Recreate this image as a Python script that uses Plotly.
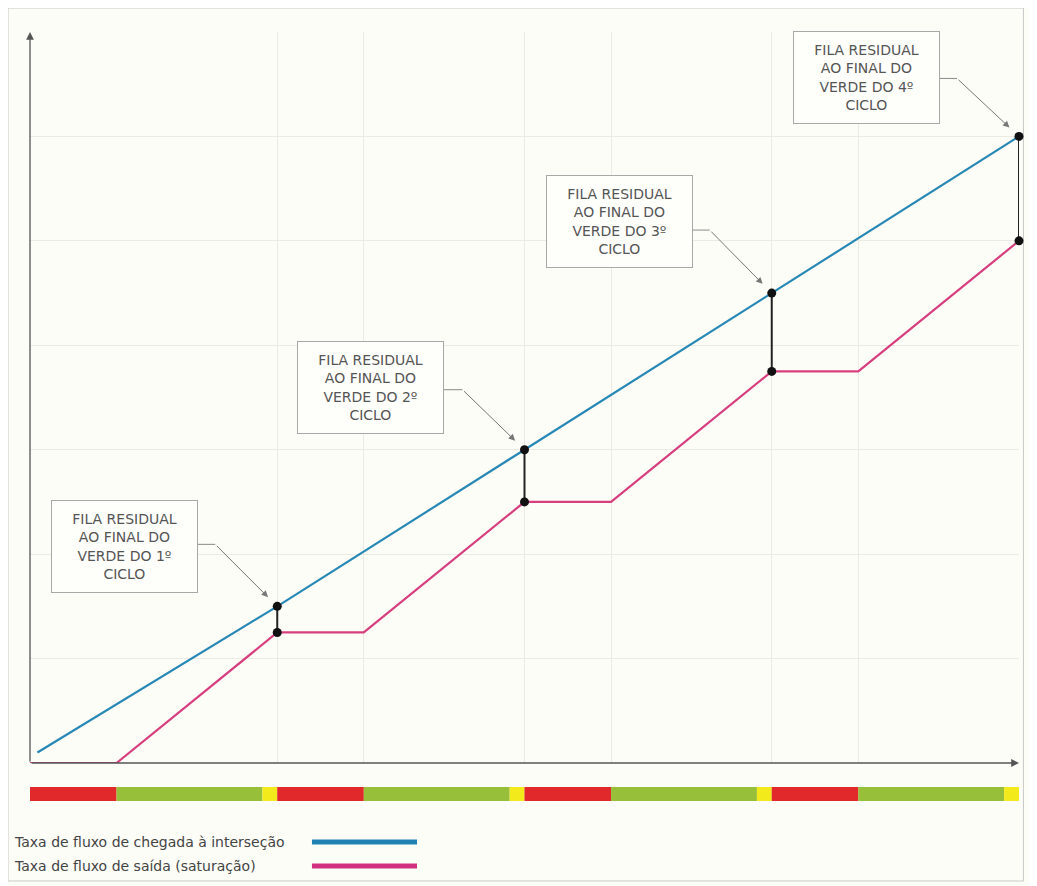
import plotly.graph_objects as go

# ---------------- data ----------------
# signal phases of one cycle (time units, cycle = 100)
phase_names = ["Vermelho", "Verde", "Amarelo"]
phase_durations = [35, 59, 6]
phase_colors = ["#e1282b", "#98bf3a", "#f3ea1c"]
n_cycles = 4

# cumulative arrivals (blue) and departures (pink)
arrival_x = [3, 100, 200, 300, 400]
arrival_y = [0.1, 1.5, 3.0, 4.5, 6.0]

departure_x = [0, 35, 100, 135, 200, 235, 300, 335, 400]
departure_y = [0, 0, 1.25, 1.25, 2.5, 2.5, 3.75, 3.75, 5.0]

# residual queue at end of each green
queue_x = [100, 200, 300, 400]
queue_top = [1.5, 3.0, 4.5, 6.0]
queue_bottom = [1.25, 2.5, 3.75, 5.0]

box_labels = [
    "FILA RESIDUAL<br>AO FINAL DO<br>VERDE DO 1º<br>CICLO",
    "FILA RESIDUAL<br>AO FINAL DO<br>VERDE DO 2º<br>CICLO",
    "FILA RESIDUAL<br>AO FINAL DO<br>VERDE DO 3º<br>CICLO",
    "FILA RESIDUAL<br>AO FINAL DO<br>VERDE DO 4º<br>CICLO",
]
legend_labels = ["Taxa de fluxo de chegada à interseção",
                 "Taxa de fluxo de saída (saturação)"]

# ---------------- style ----------------
BLUE = "#2888b5"
PINK = "#d63e7e"
BG = "#fdfdf7"
GRID = "#ebebe3"
FONT = "DejaVu Sans, Liberation Sans, Arial, sans-serif"

# build signal bar segments
seg_start, seg_len, seg_col = [], [], []
t = 0
for c in range(n_cycles):
    for d, col in zip(phase_durations, phase_colors):
        seg_start.append(t)
        seg_len.append(d)
        seg_col.append(col)
        t += d
x_max = t
cycle = sum(phase_durations)

# vertical grid: start of each cycle (after the first) and end of its red
vgrid = [s for s, col in zip(seg_start, seg_col)
         if s >= cycle and col != phase_colors[2]]

fig = go.Figure()

fig.add_trace(go.Scatter(x=departure_x, y=departure_y, mode="lines",
                         line=dict(color=PINK, width=2.2), hoverinfo="skip",
                         showlegend=False))
fig.add_trace(go.Scatter(x=arrival_x, y=arrival_y, mode="lines",
                         line=dict(color=BLUE, width=2.2), hoverinfo="skip",
                         showlegend=False))

# residual queue vertical segments + dots
for qx, qt, qb in zip(queue_x, queue_top, queue_bottom):
    fig.add_trace(go.Scatter(x=[qx, qx], y=[qt, qb], mode="lines+markers",
                             line=dict(color="#222222", width=2),
                             marker=dict(color="#111111", size=9),
                             hoverinfo="skip", showlegend=False, cliponaxis=False))

# signal bar
fig.add_trace(go.Bar(x=seg_len, base=seg_start, y=[0.5] * len(seg_len),
                     orientation="h", width=1, marker=dict(color=seg_col, line=dict(width=0)),
                     xaxis="x", yaxis="y2", showlegend=False, hoverinfo="skip"))

# ---------------- annotations ----------------
ann = []
box_offsets = [(-153, -60), (-154, -62), (-152, -72), (-153, -59)]
conn_offsets = [-62, -60, -63, -58]
shapes = []
for i, (qx, qt) in enumerate(zip(queue_x, queue_top)):
    bx, by = box_offsets[i]
    ann.append(dict(x=qx, y=qt, xref="x", yref="y", ax=bx, ay=by,
                    text=box_labels[i], showarrow=True, arrowcolor="rgba(0,0,0,0)",
                    font=dict(family=FONT, size=14, color="#555555"),
                    bordercolor="#a8a8a8", borderwidth=1, borderpad=4,
                    bgcolor="#fefefb", width=137, height=83, align="center"))
    c = conn_offsets[i]
    ann.append(dict(x=qx, y=qt, xref="x", yref="y", ax=-62, ay=c, text="",
                    showarrow=True, arrowhead=2, arrowsize=1.3, arrowwidth=1,
                    arrowcolor="#777777", standoff=13))
    shapes.append(dict(type="line", xref="x", yref="y", xsizemode="pixel",
                       ysizemode="pixel", xanchor=qx, yanchor=qt,
                       x0=-89, x1=-62, y0=-c, y1=-c,
                       line=dict(color="#8a8a8a", width=1)))

# axis arrows
ann.append(dict(x=0, y=7, xref="x", yref="y", axref="x", ayref="y", ax=0, ay=0,
                text="", showarrow=True, arrowhead=2, arrowsize=1.2, arrowwidth=1.3,
                arrowcolor="#555555"))
ann.append(dict(x=x_max, y=0, xref="x", yref="y", axref="x", ayref="y", ax=0, ay=0,
                text="", showarrow=True, arrowhead=2, arrowsize=1.2, arrowwidth=1.3,
                arrowcolor="#555555"))

# legend (text then line sample)
leg_y = [0.0403, 0.0118]
for lab, ly, col in zip(legend_labels, leg_y, ["#1f80b2", "#d0307f"]):
    ann.append(dict(x=-0.0182, y=ly, xref="paper", yref="paper", xanchor="left",
                    yanchor="middle", text=lab, showarrow=False,
                    font=dict(family=FONT, size=14, color="#444444")))
    shapes.append(dict(type="line", xref="paper", yref="paper", x0=0.2851, x1=0.3913,
                       y0=ly, y1=ly, line=dict(color=col, width=5)))

# outer frame
shapes.append(dict(type="rect", xref="paper", yref="paper", x0=-0.0222, x1=1.0045,
                   y0=-0.0059, y1=1.0284, line=dict(color="#c8c8c8", width=1),
                   layer="below"))

fig.update_layout(
    width=1029, height=878,
    margin=dict(l=22, r=18, t=24, b=10),
    paper_bgcolor=BG, plot_bgcolor=BG,
    barmode="overlay",
    showlegend=False,
    annotations=ann,
    shapes=shapes,
    xaxis=dict(range=[0, x_max], tickvals=vgrid, showticklabels=False, ticks="",
               showgrid=True, gridcolor=GRID, gridwidth=1, zeroline=False,
               showline=False, anchor="y", fixedrange=True),
    yaxis=dict(range=[0, 7], dtick=1, showticklabels=False, ticks="",
               showgrid=True, gridcolor=GRID, zeroline=False, showline=False,
               domain=[0.1339, 1], fixedrange=True),
    yaxis2=dict(range=[0, 1], domain=[0.0889, 0.1055], showticklabels=False,
                showgrid=False, zeroline=False, anchor="x", fixedrange=True),
)

fig.write_html("out.html")
